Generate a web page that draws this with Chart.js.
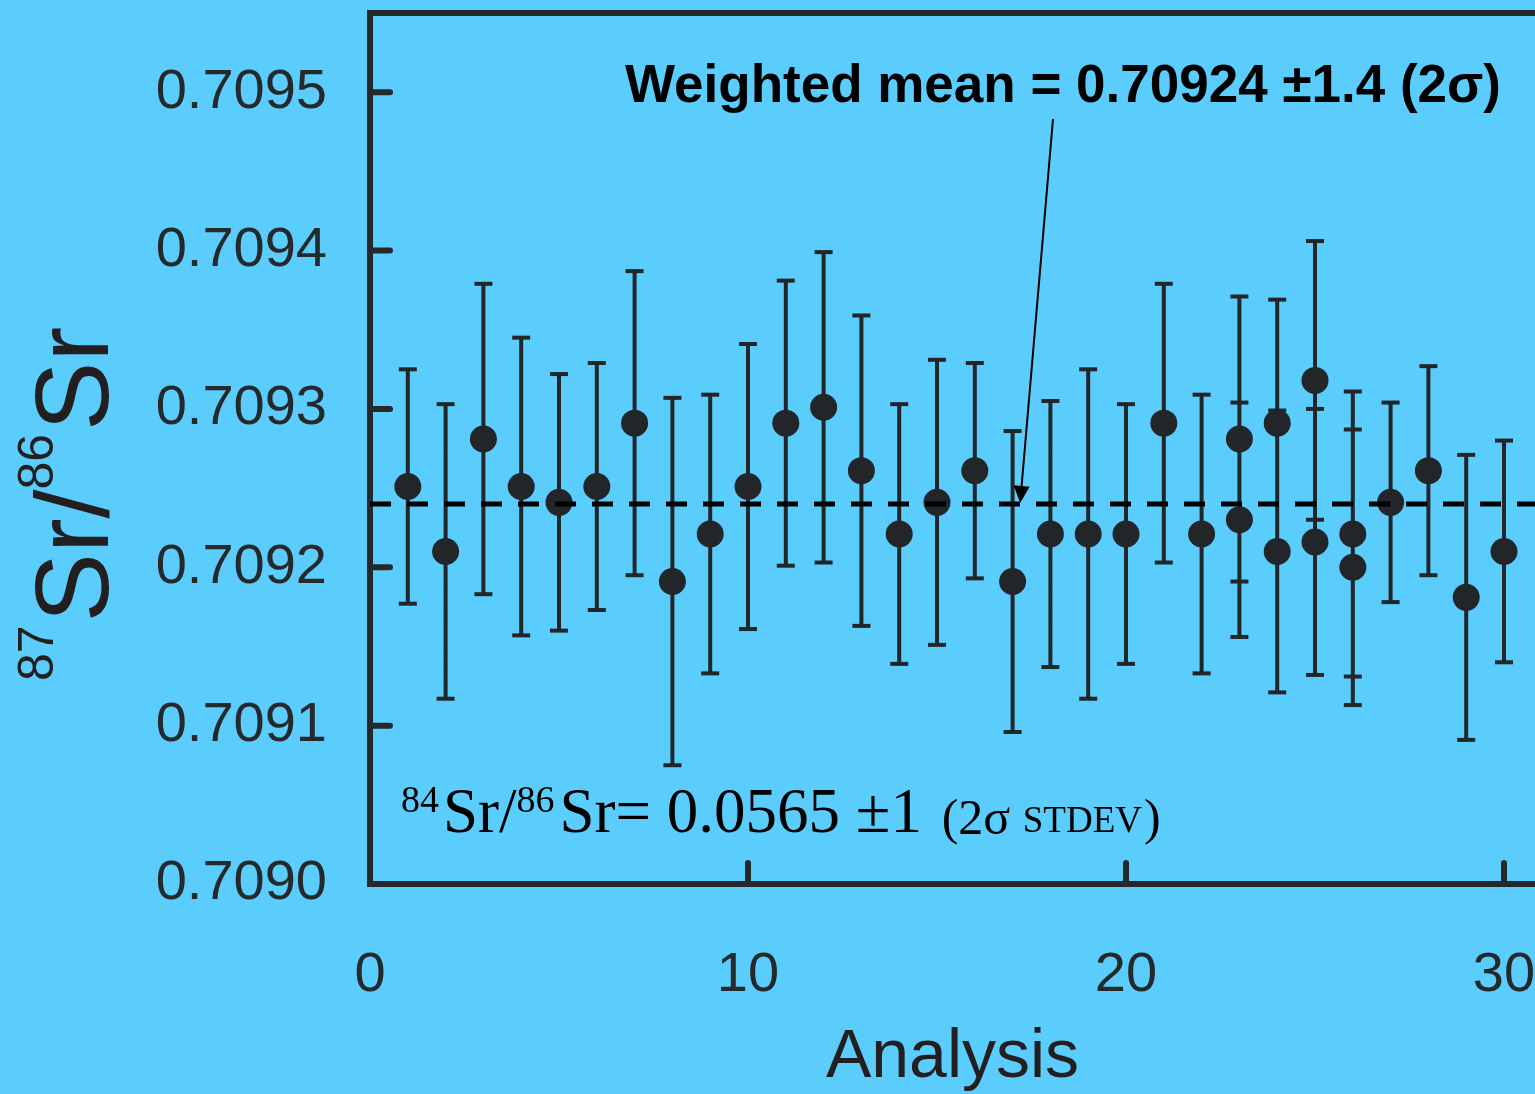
<!DOCTYPE html>
<html>
<head>
<meta charset="utf-8">
<title>87Sr/86Sr</title>
<script src="https://cdn.jsdelivr.net/npm/chart.js@4.4.1/dist/chart.umd.min.js"></script>
<style>
    html, body { margin: 0; padding: 0; background: #5bcdfd; overflow: hidden; }
    canvas { display: block; }
</style>
</head>
<body>
<canvas id="srChart" width="1535" height="1094"></canvas>
<script>
// --------------------------------------------------------
// DATA
// --------------------------------------------------------
// analysis number, some analyses have two results
const analysisNo = [1, 2, 3, 4, 5, 6, 7, 8, 9, 10, 11, 12, 13, 14, 15, 16, 17, 18, 19, 20,
    21, 22, 23, 23, 24, 24, 25, 25, 26, 26, 27, 28, 29, 30];
// measured 87Sr/86Sr
const srRatio = [0.709251, 0.709210, 0.709281, 0.709251, 0.709241, 0.709251, 0.709291, 0.709191, 0.709221, 0.709251,
    0.709291, 0.709301, 0.709261, 0.709221, 0.709241, 0.709261, 0.709191, 0.709221, 0.709221, 0.709221,
    0.709291, 0.709221, 0.709281, 0.709230, 0.709291, 0.709210, 0.709318, 0.709216, 0.709221, 0.709200,
    0.709241, 0.709261, 0.709181, 0.709210];
// 2 sigma error
const err2s = [0.000074, 0.000093, 0.000098, 0.000094, 0.000081, 0.000078, 0.000096, 0.000116, 0.000088, 0.000090,
    0.000090, 0.000098, 0.000098, 0.000082, 0.000090, 0.000068, 0.000095, 0.000084, 0.000104, 0.000082,
    0.000088, 0.000088, 0.000090, 0.000074, 0.000078, 0.000089, 0.000088, 0.000084, 0.000090, 0.000087,
    0.000063, 0.000066, 0.000090, 0.000070];

const meanRatio = 0.70924;
const xRange = [0, 30.82];          // plot is cut off on the right
const yRange = [0.7090, 0.70955];
const xTickStep = 10;
const yTickStep = 0.0001;

const BG = '#5bcdfd';
const INK = '#25292c';
const MARK = '#222629';
const FONT = '"Liberation Sans", Arial, sans-serif';
const SERIF = '"Liberation Serif", "Times New Roman", serif';

// --------------------------------------------------------
// BUILD DATASETS
// --------------------------------------------------------
const points = analysisNo.map((x, i) => ({ x: x, y: srRatio[i] }));

// vertical error bars: pairs of points separated by a gap
const barSegs = [];
analysisNo.forEach((x, i) => {
    barSegs.push({ x: x, y: srRatio[i] - err2s[i] });
    barSegs.push({ x: x, y: srRatio[i] + err2s[i] });
    barSegs.push({ x: x, y: null });
});

// caps at both ends
const capPts = [];
analysisNo.forEach((x, i) => {
    capPts.push({ x: x, y: srRatio[i] - err2s[i] });
    capPts.push({ x: x, y: srRatio[i] + err2s[i] });
});

const meanLine = xRange.map(x => ({ x: x, y: meanRatio }));

// --------------------------------------------------------
// PLUGIN: background, frame, inner ticks, texts
// --------------------------------------------------------
const decorPlugin = {
    id: 'decor',
    beforeDraw(chart) {
        const ctx = chart.ctx;
        ctx.save();
        ctx.fillStyle = BG;
        ctx.fillRect(0, 0, chart.width, chart.height);
        ctx.restore();
    },
    beforeDatasetsDraw(chart) {
        const ctx = chart.ctx;
        const area = chart.chartArea;
        const xs = chart.scales.x, ys = chart.scales.y;
        ctx.save();
        ctx.strokeStyle = INK;
        // top frame line
        ctx.lineWidth = 6;
        ctx.beginPath();
        ctx.moveTo(area.left - 3, area.top);
        ctx.lineTo(area.right + 5, area.top);
        ctx.stroke();
        // inner ticks
        ctx.lineCap = 'round';
        ctx.lineWidth = 6;
        ys.ticks.forEach(t => {
            const py = ys.getPixelForValue(t.value);
            if (py >= area.bottom - 1) return;
            ctx.beginPath();
            ctx.moveTo(area.left, py);
            ctx.lineTo(area.left + 20, py);
            ctx.stroke();
        });
        xs.ticks.forEach(t => {
            const px = xs.getPixelForValue(t.value);
            if (px <= area.left + 1) return;
            ctx.beginPath();
            ctx.moveTo(px, area.bottom);
            ctx.lineTo(px, area.bottom - 21);
            ctx.stroke();
        });
        ctx.restore();
    },
    afterDraw(chart) {
        const ctx = chart.ctx;
        const xs = chart.scales.x, ys = chart.scales.y;
        ctx.save();

        // y axis title 87Sr/86Sr (rotated)
        ctx.translate(108, 681);
        ctx.rotate(-Math.PI / 2);
        ctx.fillStyle = '#231f20';
        ctx.textBaseline = 'alphabetic';
        let x = 0;
        const parts = [['87', 50, -55], ['Sr/', 104, 0], ['86', 50, -55], ['Sr', 104, 0]];
        parts.forEach(p => {
            ctx.font = p[1] + 'px ' + FONT;
            ctx.fillText(p[0], x, p[2]);
            x += ctx.measureText(p[0]).width + (p[1] < 60 ? 3 : 0);
        });
        ctx.setTransform(1, 0, 0, 1, 0, 0);

        // 84Sr/86Sr note
        ctx.fillStyle = '#000';
        x = 401;
        const note = [['84', 38, 812, 4], ['Sr/', 63, 832, 0], ['86', 38, 812, 5],
            ['Sr= 0.0565 \u00b11 ', 63, 832, 4], ['(2\u03c3 ', 50, 834, 0],
            ['STDEV', 37, 832, 2], [')', 50, 834, 0]];
        note.forEach(p => {
            ctx.font = p[1] + 'px ' + SERIF;
            ctx.fillText(p[0], x, p[2]);
            x += ctx.measureText(p[0]).width + p[3];
        });

        // weighted mean label + arrow
        ctx.font = 'bold 53px ' + FONT;
        ctx.fillText('Weighted mean = 0.70924 \u00b11.4 (2\u03c3)', 625, 102);

        const tipX = xs.getPixelForValue(17.2);
        const tipY = ys.getPixelForValue(meanRatio) - 1;
        const startX = 1053, startY = 119;
        const ang = Math.atan2(tipY - startY, tipX - startX);
        ctx.strokeStyle = '#000';
        ctx.lineWidth = 2;
        ctx.beginPath();
        ctx.moveTo(startX, startY);
        ctx.lineTo(tipX - 14 * Math.cos(ang), tipY - 14 * Math.sin(ang));
        ctx.stroke();
        ctx.beginPath();
        ctx.moveTo(tipX, tipY);
        ctx.lineTo(tipX - 17 * Math.cos(ang) + 8 * Math.sin(ang), tipY - 17 * Math.sin(ang) - 8 * Math.cos(ang));
        ctx.lineTo(tipX - 17 * Math.cos(ang) - 8 * Math.sin(ang), tipY - 17 * Math.sin(ang) + 8 * Math.cos(ang));
        ctx.closePath();
        ctx.fill();

        ctx.restore();
    }
};

// --------------------------------------------------------
// CHART
// --------------------------------------------------------
new Chart(document.getElementById('srChart'), {
    type: 'scatter',
    data: {
        datasets: [
            {
                type: 'line',
                label: 'Weighted mean',
                data: meanLine,
                borderColor: '#000',
                borderWidth: 5,
                borderDash: [21, 16],
                pointRadius: 0,
                fill: false,
                order: 0
            },
            {
                label: '87Sr/86Sr',
                data: points,
                backgroundColor: MARK,
                borderWidth: 0,
                pointRadius: 13.5,
                order: 1
            },
            {
                label: 'caps',
                data: capPts,
                pointStyle: 'line',
                pointRadius: 9,
                borderColor: MARK,
                borderWidth: 4,
                order: 2
            },
            {
                type: 'line',
                label: 'error bars',
                data: barSegs,
                borderColor: MARK,
                borderWidth: 4,
                pointRadius: 0,
                spanGaps: false,
                fill: false,
                order: 3
            }
        ]
    },
    options: {
        responsive: false,
        devicePixelRatio: 1,
        animation: false,
        events: [],
        layout: { autoPadding: false, padding: { top: 13, right: 0, bottom: 0, left: 0 } },
        plugins: { legend: { display: false }, tooltip: { enabled: false } },
        scales: {
            x: {
                type: 'linear',
                min: xRange[0],
                max: xRange[1],
                grid: { display: false, drawTicks: false },
                border: { display: true, width: 6, color: INK },
                ticks: {
                    stepSize: xTickStep,
                    includeBounds: false,
                    padding: 58,
                    color: INK,
                    font: { family: FONT, size: 56 },
                    maxRotation: 0,
                    autoSkip: false
                },
                title: {
                    display: true,
                    text: 'Analysis',
                    color: '#231f20',
                    font: { family: FONT, size: 68, lineHeight: 1.06 },
                    padding: 0
                },
                afterFit: s => { s.height = 210; s.paddingLeft = 0; s.paddingRight = 0; }
            },
            y: {
                min: yRange[0],
                max: yRange[1],
                grid: { display: false, drawTicks: false },
                border: { display: true, width: 6, color: INK },
                ticks: {
                    stepSize: yTickStep,
                    includeBounds: false,
                    padding: 43,
                    color: INK,
                    font: { family: FONT, size: 56 },
                    callback: v => v.toFixed(4)
                },
                afterFit: s => { s.width = 370; s.paddingTop = 0; s.paddingBottom = 0; }
            }
        }
    },
    plugins: [decorPlugin]
});
</script>
</body>
</html>
